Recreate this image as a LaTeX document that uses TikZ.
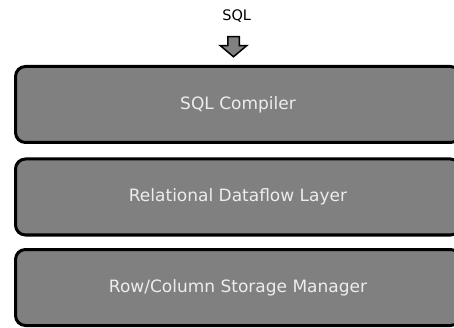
\documentclass[tikz,border=0pt]{standalone}
\usepackage{fontspec}
\setmainfont{DejaVu Sans}
\usetikzlibrary{shapes.arrows}
\begin{document}
\begin{tikzpicture}[x=1pt,y=-1pt,
  layer/.style={draw=black, line width=3pt, fill=gray, rounded corners=10pt,
    minimum width=445pt, minimum height=76pt, inner sep=0pt,
    text=white!93!black, font=\fontsize{17}{20}\selectfont},
  inputarrow/.style={single arrow, draw=black, line width=1.5pt, fill=gray,
    rotate=-90, minimum height=20pt, inner xsep=0pt, inner ysep=5pt,
    single arrow head extend=7.5pt, single arrow tip angle=100, anchor=tail},
  label/.style={font=\fontsize{14.5}{17}\selectfont, inner sep=0pt, anchor=base}]
  \useasboundingbox (0,0) rectangle (454,328);
  \clip (0,0) rectangle (454,328);
  % query entering the stack
  \node[label] (sql) at (236.7,20.7) {SQL};
  \node[inputarrow] (in) at (233.5,36) {};
  % the three layers
  \node[layer] (compiler) at (238,104.5) {SQL Compiler};
  \node[layer] (dataflow) at (238,197) {Relational Dataflow Layer};
  \node[layer] (storage) at (238,287.5) {Row/Column Storage Manager};
\end{tikzpicture}
\end{document}
